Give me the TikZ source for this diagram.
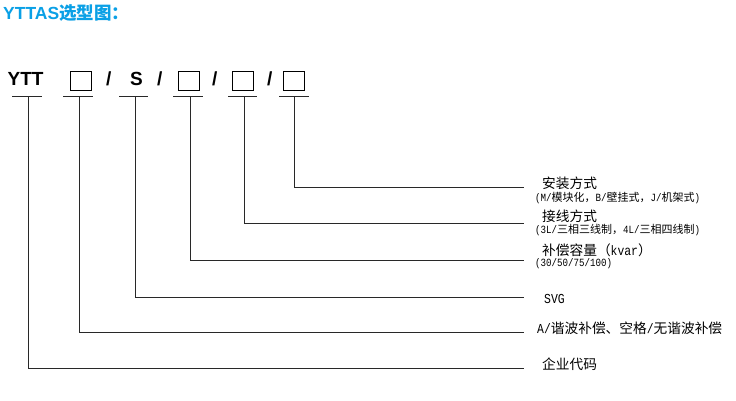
\documentclass[tikz,border=0pt]{standalone}
\usepackage{fontspec}
\setmainfont{Liberation Sans}
\newfontfamily\cjk{Noto Sans CJK SC}
\newfontfamily\monof[FakeStretch=0.833]{Liberation Mono}
\newcommand\lat[1]{{\monof #1}}
\definecolor{titleblue}{RGB}{10,160,230}
\definecolor{linegray}{RGB}{40,40,40}
\tikzset{
  codetxt/.style={anchor=base west, inner sep=0pt, font=\bfseries\fontsize{19}{19}\selectfont},
  slot/.style={draw=black, line width=0.9pt, minimum width=21pt, minimum height=19pt, inner sep=0pt, anchor=north west},
  bar/.style={line width=1pt, draw=linegray},
  conn/.style={line width=1pt, draw=linegray},
  lab/.style={anchor=base west, inner sep=0pt, font=\cjk\fontsize{13.7}{13.7}\selectfont},
  sublab/.style={anchor=base west, inner sep=0pt, font=\cjk\fontsize{11}{11}\selectfont},
}
\begin{document}
\begin{tikzpicture}[x=1pt,y=-1pt]
\useasboundingbox[fill=white] (0,0) rectangle (736,401);
% title
\node[anchor=base west, inner sep=0pt, text=titleblue, font=\bfseries\fontsize{17.5}{17.5}\selectfont] (title) at (3,19.5) {YTTAS{\cjk 选型图：}};
% code line
\node[codetxt] (ytt) at (7.5,86) {YTT};
\node[slot] (s1) at (70,71.5) {};
\node[codetxt] (sl1) at (106,86) {/};
\node[codetxt] (S) at (130,86) {S};
\node[codetxt] (sl2) at (157,86) {/};
\node[slot] (s2) at (178,71.5) {};
\node[codetxt] (sl3) at (212,86) {/};
\node[slot] (s3) at (232,71.5) {};
\node[codetxt] (sl4) at (267,86) {/};
\node[slot] (s4) at (283,71.5) {};
% bars
\draw[bar] (12,97) -- (42,97);
\draw[bar] (63,97) -- (93,97);
\draw[bar] (119,97) -- (148,97);
\draw[bar] (173,97) -- (203,97);
\draw[bar] (228,97) -- (257,97);
\draw[bar] (279,97) -- (309,97);
% connector start points
\coordinate (b1) at (28,97);
\coordinate (b2) at (79,97);
\coordinate (b3) at (135,97);
\coordinate (b4) at (190,97);
\coordinate (b5) at (244,97);
\coordinate (b6) at (294,97);
% connector end points
\coordinate (e1) at (523.5,368);
\coordinate (e2) at (523.5,332);
\coordinate (e3) at (523.5,297);
\coordinate (e4) at (523.5,260);
\coordinate (e5) at (523.5,223);
\coordinate (e6) at (523.5,187);
\draw[conn] (b1) |- (e1);
\draw[conn] (b2) |- (e2);
\draw[conn] (b3) |- (e3);
\draw[conn] (b4) |- (e4);
\draw[conn] (b5) |- (e5);
\draw[conn] (b6) |- (e6);
% labels
\node[lab] (l6) at (542,188) {安装方式};
\node[sublab] (l6s) at (535,201.5) {\lat{(M/}模块化，\lat{B/}壁挂式，\lat{J/}机架式\lat{)}};
\node[lab] (l5) at (542,221) {接线方式};
\node[sublab] (l5s) at (535,233.5) {\lat{(3L/}三相三线制，\lat{4L/}三相四线制\lat{)}};
\node[lab] (l4) at (542,255.5) {补偿容量（\lat{kvar}）};
\node[sublab] (l4s) at (535,266.5) {\lat{(30/50/75/100)}};
\node[lab] (l3) at (544,303) {\lat{SVG}};
\node[lab] (l2) at (537,333.5) {\lat{A/}谐波补偿、空格\lat{/}无谐波补偿};
\node[lab] (l1) at (542,369) {企业代码};
\end{tikzpicture}
\end{document}
